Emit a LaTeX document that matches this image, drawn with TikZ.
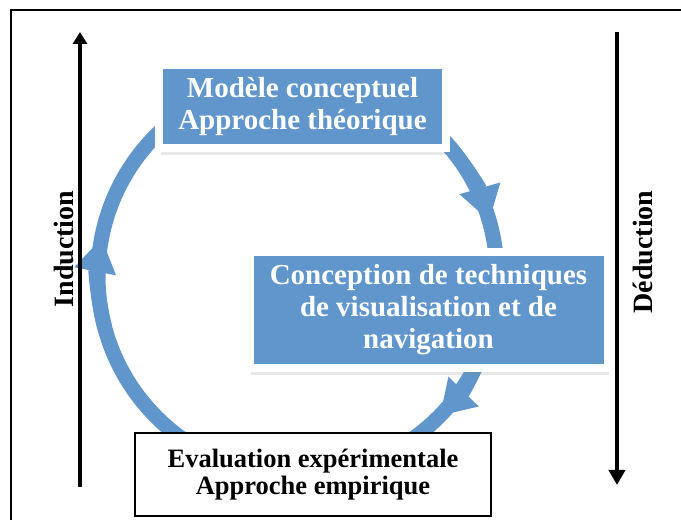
\documentclass[tikz,border=0pt]{standalone}
\usepackage{fontspec}
\setmainfont{Liberation Serif}
\usetikzlibrary{arrows.meta,shadows}

\definecolor{cycleblue}{RGB}{97,150,204}

\begin{document}
\begin{tikzpicture}[x=1pt, y=1pt,
    stage/.style={fill=cycleblue, draw=white, line width=8pt, text=white,
      font=\bfseries\fontsize{29}{32}\selectfont, align=center, inner sep=0pt,
      drop shadow={shadow xshift=1.5pt, shadow yshift=-7pt, opacity=0.18}},
    result/.style={fill=white, draw=black, line width=2pt,
      font=\bfseries\fontsize{26.5}{27}\selectfont, align=center, inner sep=0pt},
    ring/.style={draw=cycleblue, line width=15pt},
    ringhead/.style={-{Triangle[width=40pt,length=34pt]}},
    axis/.style={line width=4pt},
    axislabel/.style={font=\bfseries\fontsize{28}{32}\selectfont, rotate=90}]

\useasboundingbox (0,0) rectangle (681,520);

% Points
\coordinate (c) at (297.5,244);
\coordinate (indBot) at (80,33);
\coordinate (indTop) at (80,488);
\coordinate (dedTop) at (617,488);
\coordinate (dedBot) at (617,35);

% Outer frame
\draw[line width=2.5pt] (11,0) -- (11,510) -- (681,510);

% Cycle
\draw[ring] (c) circle[radius=199.5];
\draw[ring, ringhead] (c) ++(195:199.5) arc[start angle=195, end angle=169, radius=199.5];
\draw[ring, ringhead] (c) ++(42:199.5) arc[start angle=42, end angle=16, radius=199.5];
\draw[ring, ringhead] (c) ++(-18:199.5) arc[start angle=-18, end angle=-44.5, radius=199.5];

% Stages
\node[stage, minimum width=287, minimum height=83] (model) at (302.5,413)
    {Modèle conceptuel\\Approche théorique};
\node[stage, minimum width=358, minimum height=116] (design) at (428.5,210)
    {Conception de techniques\\de visualisation et de\\navigation};
\node[result, minimum width=356, minimum height=83] (eval) at (313,45.5)
    {Evaluation expérimentale\\Approche empirique};

% Induction / deduction
\draw[axis, -{Triangle[width=14pt,length=12pt]}] (indBot) -- (indTop);
\draw[axis, -{Triangle[width=16pt,length=15pt]}] (dedTop) -- (dedBot);
\node[axislabel] (ind) at (64,271) {Induction};
\node[axislabel] (ded) at (643,268) {Déduction};

\end{tikzpicture}
\end{document}
